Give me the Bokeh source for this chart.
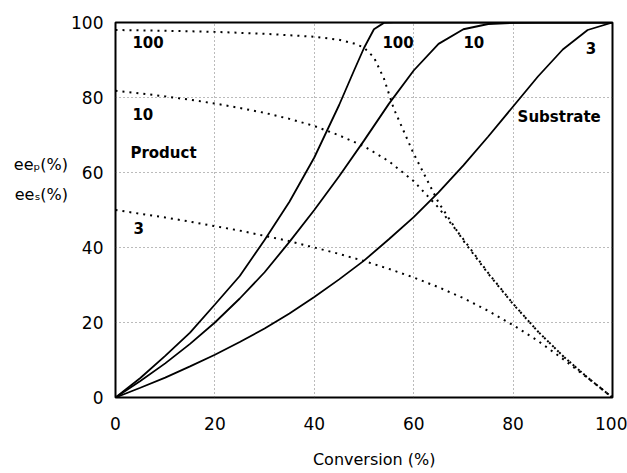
from bokeh.plotting import figure
from bokeh.models import Range1d, Label, FixedTicker
from bokeh.embed import file_html
from bokeh.resources import INLINE

# ---- data (conversion %, ee %) ----
ticks = [0, 20, 40, 60, 80, 100]

conv = [0, 5, 10, 15, 20, 25, 30, 35, 40, 45, 50, 55, 60, 65, 70, 75, 80, 85, 90, 95, 100]

# substrate ee (solid)
ee_s_3 = [0, 2.6, 5.3, 8.3, 11.4, 14.8, 18.4, 22.4, 26.8, 31.5, 36.5, 42.2, 48.1, 54.7, 61.9, 69.6, 77.6, 85.6, 92.8, 98.0, 100]
ee_s_10 = [0, 4.4, 9.1, 14.3, 20.0, 26.4, 33.4, 41.5, 50.0, 59.0, 68.5, 78.3, 87.2, 94.3, 98.2, 99.6, 99.9, 100, 100, 100, 100]
conv_s_100 = [0, 5, 10, 15, 20, 25, 30, 35, 40, 45, 48, 50, 52, 54, 56, 60, 70, 80, 90, 100]
ee_s_100 = [0, 5.2, 11.1, 17.3, 24.8, 32.4, 42.0, 52.2, 64.0, 78.0, 87.2, 93.2, 98.2, 99.9, 100, 100, 100, 100, 100, 100]

# product ee (dotted)
ee_p_3 = [50, 49.0, 48.0, 46.9, 45.7, 44.5, 43.1, 41.7, 40.0, 38.3, 36.4, 34.3, 32.0, 29.4, 26.5, 23.1, 19.3, 15.1, 10.3, 5.2, 0]
ee_p_10 = [81.8, 81.1, 80.3, 79.4, 78.4, 77.2, 75.9, 74.3, 72.4, 69.9, 67.0, 63.0, 57.7, 50.6, 42.2, 33.2, 25.0, 17.6, 11.1, 5.3, 0]
conv_p_100 = [0, 10, 20, 30, 40, 45, 48, 50, 52, 54, 56, 58, 60, 65, 70, 75, 80, 85, 90, 95, 100]
ee_p_100 = [98.0, 97.8, 97.5, 97.0, 96.2, 95.4, 94.4, 93.3, 90.7, 85.1, 77.0, 71.0, 65.0, 52.0, 41.8, 33.0, 24.9, 17.6, 11.1, 5.3, 0]

FONT = "DejaVu Sans"

p = figure(width=627, height=473, output_backend="svg", toolbar_location=None,
           x_range=Range1d(0, 100), y_range=Range1d(0, 100),
           min_border_left=115, min_border_right=15, min_border_top=22, min_border_bottom=76)
p.background_fill_color = "white"
p.border_fill_color = "white"
p.outline_line_color = "black"
p.outline_line_width = 2

for ax in (p.xaxis, p.yaxis):
    ax.ticker = FixedTicker(ticks=ticks)
    ax.major_tick_in = 0
    ax.major_tick_out = 0
    ax.minor_tick_line_color = None
    ax.axis_line_color = None
    ax.major_label_text_font = FONT
    ax.major_label_text_font_size = "17px"
    ax.major_label_text_color = "black"
    ax.axis_label_text_font = FONT
    ax.axis_label_text_font_size = "16px"
    ax.axis_label_text_font_style = "normal"
    ax.axis_label_text_color = "black"
p.xaxis.major_label_standoff = 19
p.yaxis.major_label_standoff = 12

p.xaxis.axis_label = "\u00a0\u00a0\u00a0\u00a0Conversion (%)"
p.xaxis.axis_label_standoff = 17

p.yaxis.axis_label = "ee\u209a(%)\nee\u209b(%)\n\u00a0\n\u00a0"
p.yaxis.axis_label_orientation = "horizontal"
p.yaxis.axis_label_text_line_height = 1.58
p.yaxis.axis_label_standoff = 0

p.grid.grid_line_color = "#555555"
p.grid.grid_line_dash = "1 3"
p.grid.grid_line_alpha = 0.8
p.grid.grid_line_width = 1

# substrate curves (solid)
p.line(conv, ee_s_3, line_color="black", line_width=1.8)
p.line(conv, ee_s_10, line_color="black", line_width=1.8)
p.line(conv_s_100, ee_s_100, line_color="black", line_width=1.8)

# product curves (dotted)
p.line(conv, ee_p_3, line_color="black", line_width=2, line_dash="2 5")
p.line(conv, ee_p_10, line_color="black", line_width=2, line_dash="2 5")
p.line(conv_p_100, ee_p_100, line_color="black", line_width=2, line_dash="2 5")

def lab(x, y, t, size="15px", align="left", base="middle"):
    p.add_layout(Label(x=x, y=y, text=t, text_font=FONT, text_font_size=size,
                       text_font_style="bold", text_color="black",
                       text_align=align, text_baseline=base))

lab(3.4, 94.9, "100")
lab(3.4, 75.7, "10")
lab(3.0, 65.3, "Product")
lab(3.6, 45.1, "3")
lab(53.7, 94.7, "100")
lab(70.0, 94.7, "10")
lab(94.6, 93.3, "3")
lab(80.9, 74.7, "Substrate")

open("out.html", "w").write(file_html(p, INLINE))
